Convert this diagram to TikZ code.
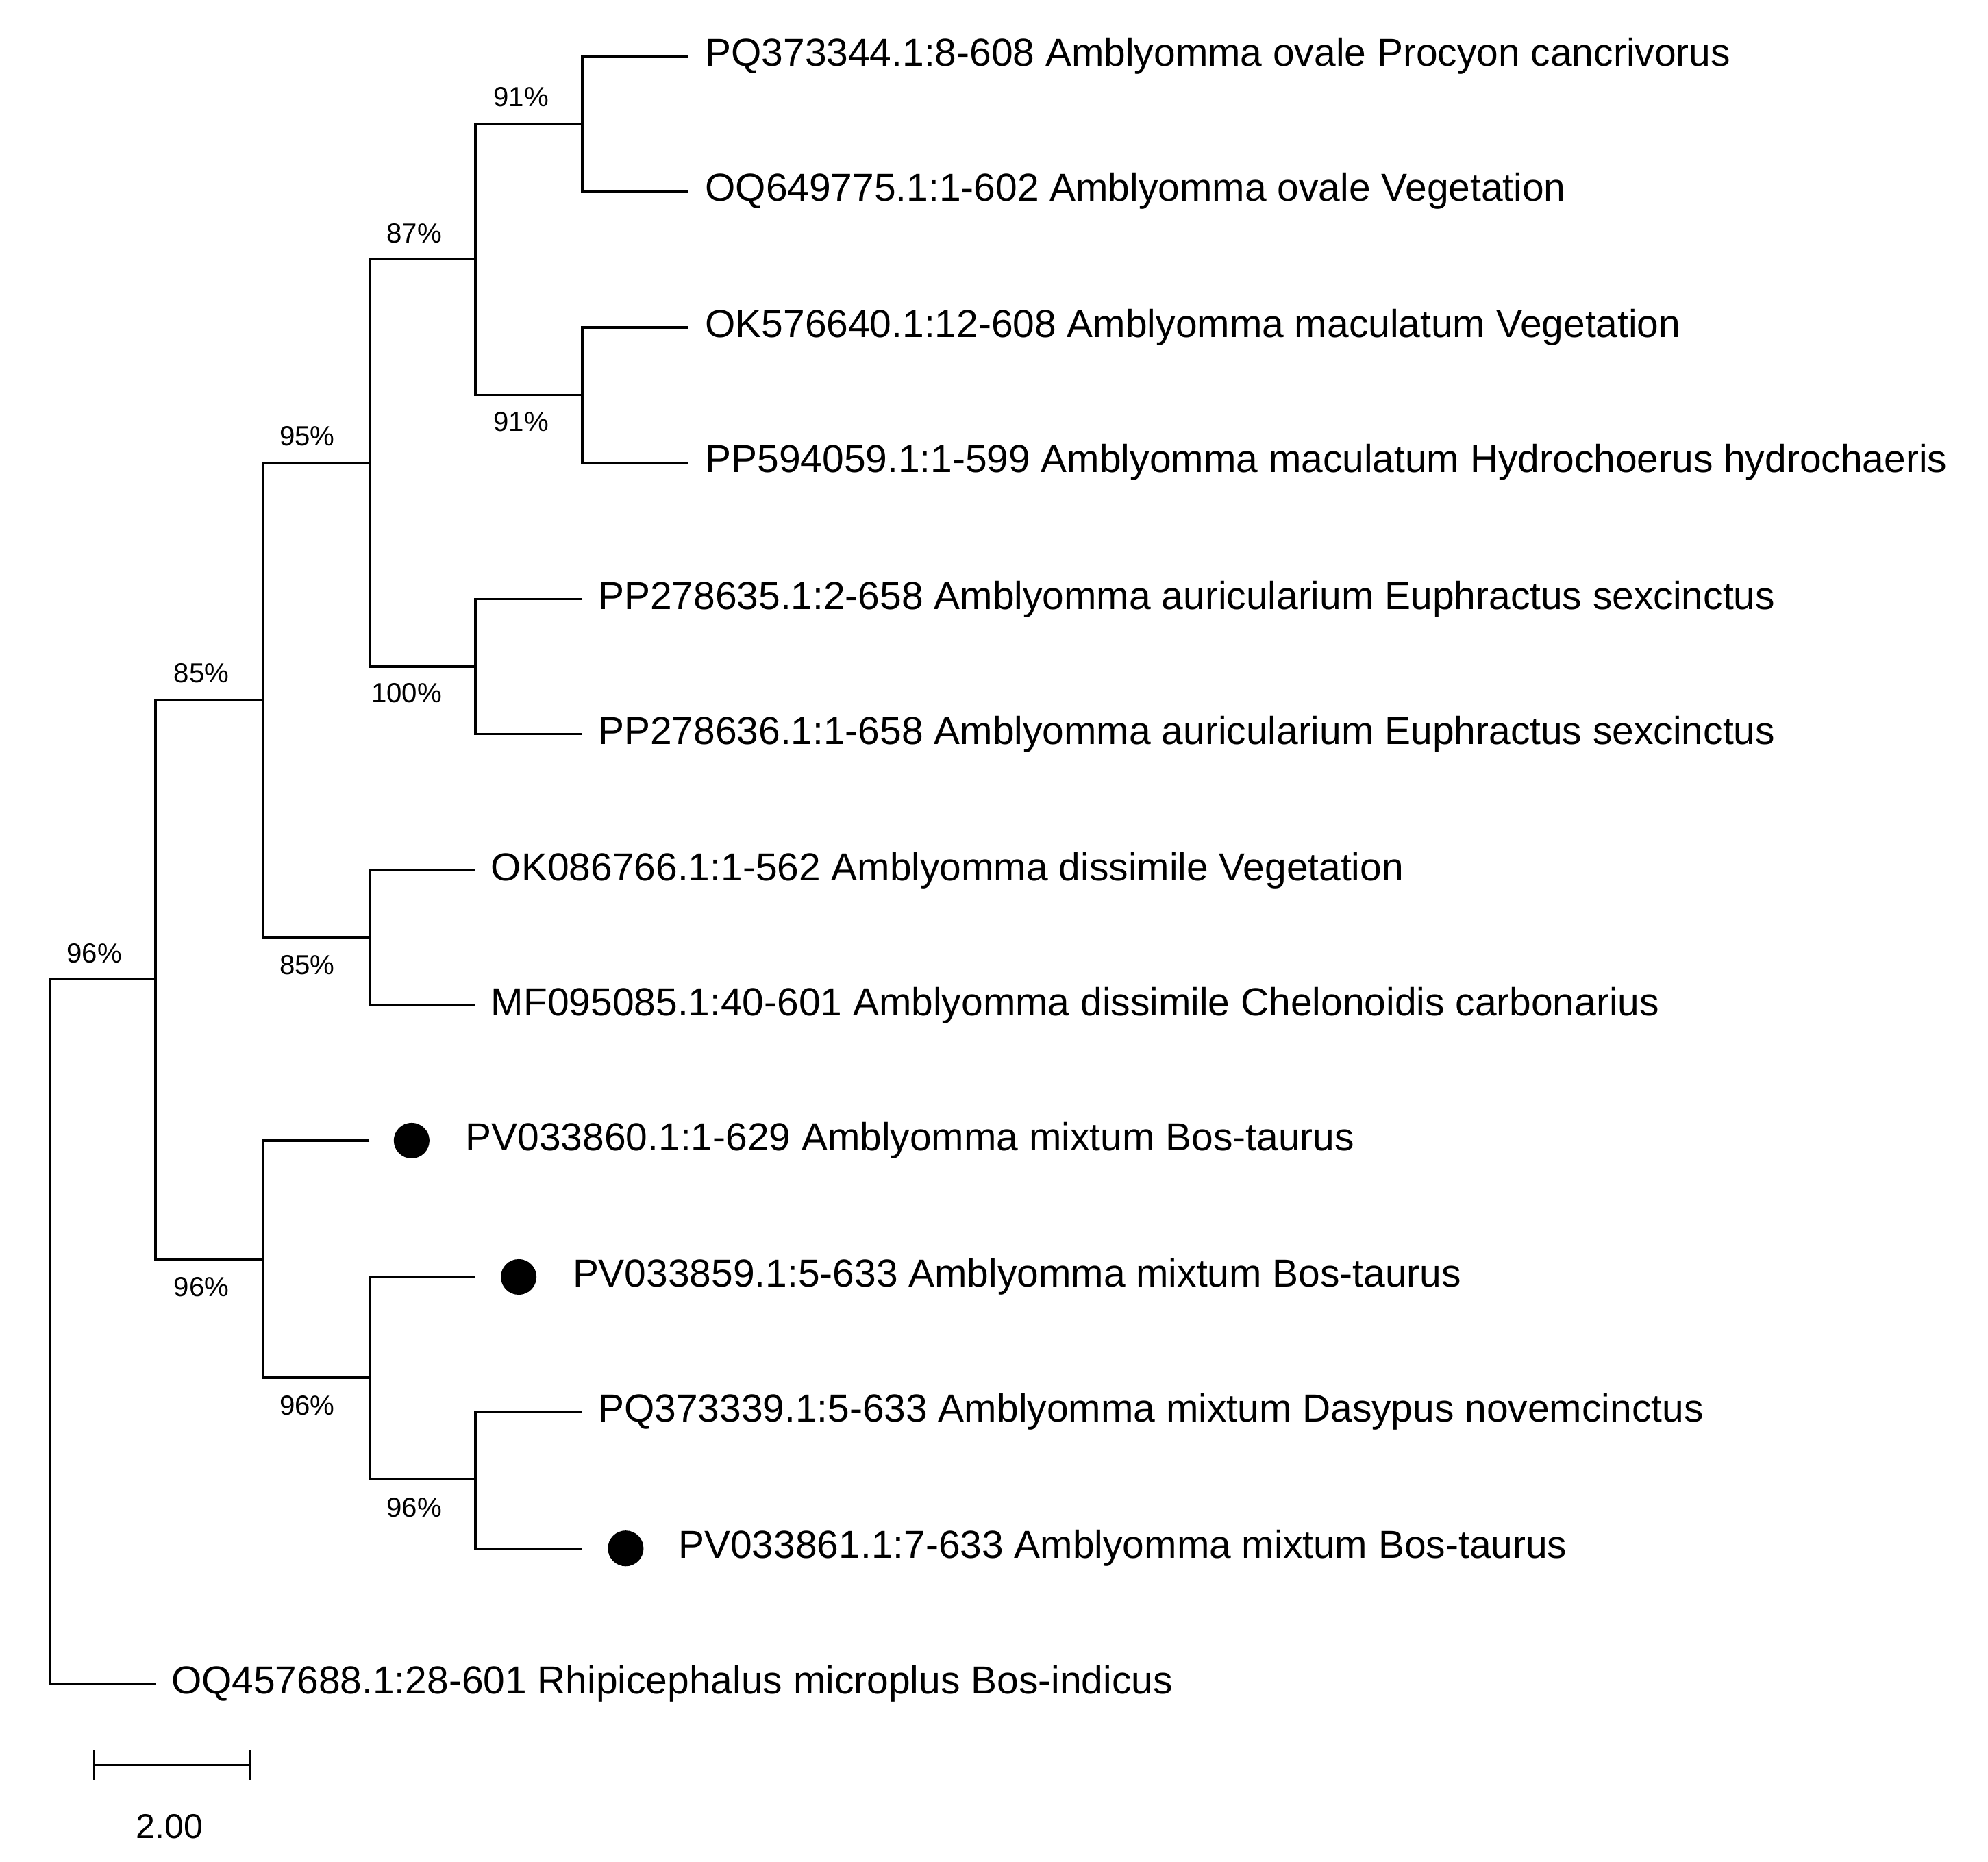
\documentclass[tikz,border=0pt]{standalone}
\usepackage{fontspec}
\setmainfont{Liberation Sans}
\begin{document}
\begin{tikzpicture}[x=0.5pt,y=-0.5pt,
  br/.style={line width=0.9pt,black},
  leaf/.style={anchor=west,inner sep=0pt,font=\fontsize{15.3}{17}\selectfont},
  bs/.style={inner sep=0pt,font=\fontsize{10.8}{12}\selectfont},
  dotm/.style={circle,fill=black,minimum size=14pt,inner sep=0pt}]
\useasboundingbox (0,0) rectangle (1560,1461);
% internal nodes
\coordinate (A) at (457,97);
\coordinate (B) at (457,310);
\coordinate (C) at (373,203);
\coordinate (D) at (373,523);
\coordinate (E) at (290,363);
\coordinate (F) at (290,736);
\coordinate (G) at (206,549);
\coordinate (H) at (373,1161);
\coordinate (I) at (290,1081);
\coordinate (J) at (206,988);
\coordinate (K) at (122,768);
\coordinate (R) at (39,1045);
% leaf ends
\coordinate (l1) at (540,44);
\coordinate (l2) at (540,150);
\coordinate (l3) at (540,257);
\coordinate (l4) at (540,363);
\coordinate (l5) at (457,470);
\coordinate (l6) at (457,576);
\coordinate (l7) at (373,683);
\coordinate (l8) at (373,789);
\coordinate (l9) at (290,895);
\coordinate (l10) at (373,1002);
\coordinate (l11) at (457,1108);
\coordinate (l12) at (457,1215);
\coordinate (l13) at (122,1321);
% labels
\node[leaf] (t1) at (553,44) {PQ373344.1:8-608 Amblyomma ovale Procyon cancrivorus};
\node[leaf] (t2) at (553,150) {OQ649775.1:1-602 Amblyomma ovale Vegetation};
\node[leaf] (t3) at (553,257) {OK576640.1:12-608 Amblyomma maculatum Vegetation};
\node[leaf] (t4) at (553,363) {PP594059.1:1-599 Amblyomma maculatum Hydrochoerus hydrochaeris};
\node[leaf] (t5) at (469,470) {PP278635.1:2-658 Amblyomma auricularium Euphractus sexcinctus};
\node[leaf] (t6) at (469,576) {PP278636.1:1-658 Amblyomma auricularium Euphractus sexcinctus};
\node[leaf] (t7) at (385,683) {OK086766.1:1-562 Amblyomma dissimile Vegetation};
\node[leaf] (t8) at (385,789) {MF095085.1:40-601 Amblyomma dissimile Chelonoidis carbonarius};
\node[leaf] (t9) at (365,895) {PV033860.1:1-629 Amblyomma mixtum Bos-taurus};
\node[leaf] (t10) at (449,1002) {PV033859.1:5-633 Amblyomma mixtum Bos-taurus};
\node[leaf] (t11) at (469,1108) {PQ373339.1:5-633 Amblyomma mixtum Dasypus novemcinctus};
\node[leaf] (t12) at (532,1215) {PV033861.1:7-633 Amblyomma mixtum Bos-taurus};
\node[leaf] (t13) at (134,1321) {OQ457688.1:28-601 Rhipicephalus microplus Bos-indicus};
\node[dotm] (d1) at (323,895) {};
\node[dotm] (d2) at (407,1002) {};
\node[dotm] (d3) at (491,1215) {};
% branches
\draw[br] (l1) -| (A) |- (l2);
\draw[br] (l3) -| (B) |- (l4);
\draw[br] (A) -| (C) |- (B);
\draw[br] (l5) -| (D) |- (l6);
\draw[br] (C) -| (E) |- (D);
\draw[br] (l7) -| (F) |- (l8);
\draw[br] (E) -| (G) |- (F);
\draw[br] (l11) -| (H) |- (l12);
\draw[br] (l10) -| (I) |- (H);
\draw[br] (l9) -| (J) |- (I);
\draw[br] (G) -| (K) |- (J);
\draw[br] (K) -| (R) |- (l13);
% bootstrap
\node[bs] (b1) at (409,76) {91\%};
\node[bs] (b2) at (409,331) {91\%};
\node[bs] (b3) at (325,183) {87\%};
\node[bs] (b4) at (319,544) {100\%};
\node[bs] (b5) at (241,342) {95\%};
\node[bs] (b6) at (241,757) {85\%};
\node[bs] (b7) at (158,528) {85\%};
\node[bs] (b8) at (325,1183) {96\%};
\node[bs] (b9) at (241,1103) {96\%};
\node[bs] (b10) at (158,1010) {96\%};
\node[bs] (b11) at (74,748) {96\%};
% scale bar
\coordinate (s1) at (74,1385);
\coordinate (s2) at (196,1385);
\draw[br] (s1) -- (s2);
\draw[br] ([yshift=-6]s1) -- ([yshift=6]s1);
\draw[br] ([yshift=-6]s2) -- ([yshift=6]s2);
\node[bs,font=\fontsize{13.5}{14}\selectfont] (sl) at (133,1433) {2.00};
\end{tikzpicture}
\end{document}
